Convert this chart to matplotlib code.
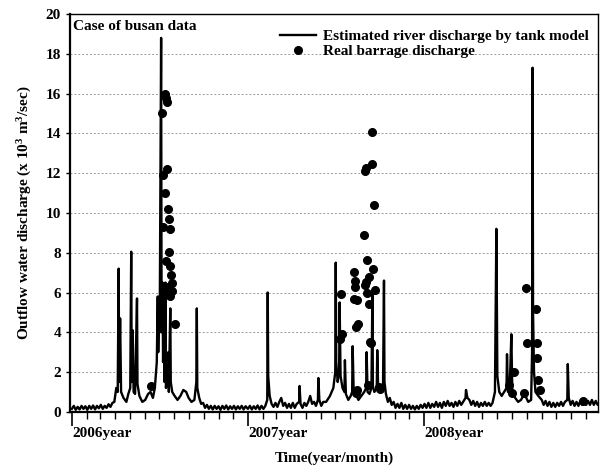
import matplotlib
matplotlib.use("Agg")
import matplotlib.pyplot as plt
import matplotlib.dates as mdates
import pandas as pd

plt.rcParams['font.family'] = ['Liberation Serif', 'DejaVu Serif']
plt.rcParams['font.weight'] = 'bold'
plt.rcParams['mathtext.fontset'] = 'custom'
plt.rcParams['mathtext.rm'] = 'Liberation Serif:bold'
plt.rcParams['mathtext.bf'] = 'Liberation Serif:bold'
plt.rcParams['mathtext.default'] = 'bf'

# tank model estimate (10^3 m3/sec)
tank_2006 = [
    ("2006-01-01", 0.15), ("2006-01-05", 0.3), ("2006-01-09", 0.1), ("2006-01-13", 0.25),
    ("2006-01-17", 0.12), ("2006-01-21", 0.3), ("2006-01-25", 0.15), ("2006-01-29", 0.28),
    ("2006-02-02", 0.1), ("2006-02-06", 0.3), ("2006-02-10", 0.15), ("2006-02-14", 0.32),
    ("2006-02-18", 0.12), ("2006-02-22", 0.3), ("2006-02-26", 0.18), ("2006-03-02", 0.35),
    ("2006-03-06", 0.15), ("2006-03-10", 0.3), ("2006-03-14", 0.2), ("2006-03-18", 0.38),
    ("2006-03-22", 0.25), ("2006-03-26", 0.45), ("2006-03-30", 0.5), ("2006-04-03", 1.2),
    ("2006-04-06", 1.0), ("2006-04-08", 7.2), ("2006-04-09", 1.5), ("2006-04-11", 4.7),
    ("2006-04-13", 1.0), ("2006-04-18", 0.7), ("2006-04-24", 0.5), ("2006-04-28", 0.9),
    ("2006-05-02", 1.2), ("2006-05-04", 8.05), ("2006-05-05", 1.5), ("2006-05-07", 4.1),
    ("2006-05-09", 1.0), ("2006-05-12", 0.9), ("2006-05-16", 5.7), ("2006-05-17", 1.4),
    ("2006-05-21", 0.8), ("2006-05-27", 0.5), ("2006-06-02", 0.6), ("2006-06-08", 0.9),
    ("2006-06-13", 1.0), ("2006-06-18", 0.7), ("2006-06-22", 1.2), ("2006-06-26", 2.5),
    ("2006-06-28", 5.8), ("2006-06-29", 3.0), ("2006-07-01", 5.5), ("2006-07-02", 4.0),
    ("2006-07-05", 18.8), ("2006-07-06", 4.0), ("2006-07-08", 6.5), ("2006-07-09", 2.5),
    ("2006-07-11", 4.5), ("2006-07-12", 1.5), ("2006-07-14", 6.5), ("2006-07-15", 1.2),
    ("2006-07-18", 2.0), ("2006-07-20", 3.0), ("2006-07-21", 1.0), ("2006-07-24", 5.2),
    ("2006-07-25", 1.5), ("2006-07-28", 1.0), ("2006-08-02", 0.8), ("2006-08-08", 0.6),
    ("2006-08-14", 0.8), ("2006-08-20", 1.1), ("2006-08-26", 1.0), ("2006-08-31", 0.7),
    ("2006-09-06", 0.5), ("2006-09-12", 0.6), ("2006-09-16", 1.5), ("2006-09-17", 5.2),
    ("2006-09-18", 1.2), ("2006-09-22", 0.7), ("2006-09-26", 0.4), ("2006-09-30", 0.45),
    ("2006-10-04", 0.2), ("2006-10-08", 0.35), ("2006-10-12", 0.15), ("2006-10-16", 0.3),
    ("2006-10-20", 0.12), ("2006-10-24", 0.3), ("2006-10-28", 0.15), ("2006-11-01", 0.28),
    ("2006-11-05", 0.1), ("2006-11-09", 0.3), ("2006-11-13", 0.15), ("2006-11-17", 0.32),
    ("2006-11-21", 0.12), ("2006-11-25", 0.28), ("2006-11-29", 0.15), ("2006-12-03", 0.3),
    ("2006-12-07", 0.12), ("2006-12-11", 0.28), ("2006-12-15", 0.15), ("2006-12-19", 0.3),
    ("2006-12-23", 0.12), ("2006-12-27", 0.28),
]
tank_2007 = [
    ("2007-01-01", 0.15), ("2007-01-05", 0.3), ("2007-01-09", 0.12), ("2007-01-13", 0.28),
    ("2007-01-17", 0.15), ("2007-01-21", 0.32), ("2007-01-25", 0.12), ("2007-01-29", 0.3),
    ("2007-02-02", 0.15), ("2007-02-06", 0.3), ("2007-02-10", 0.6), ("2007-02-11", 6.0),
    ("2007-02-12", 1.8), ("2007-02-15", 0.8), ("2007-02-19", 0.4), ("2007-02-23", 0.25),
    ("2007-02-27", 0.45), ("2007-03-03", 0.25), ("2007-03-07", 0.5), ("2007-03-11", 0.7),
    ("2007-03-15", 0.3), ("2007-03-19", 0.45), ("2007-03-23", 0.2), ("2007-03-27", 0.4),
    ("2007-03-31", 0.2), ("2007-04-04", 0.45), ("2007-04-08", 0.2), ("2007-04-12", 0.4),
    ("2007-04-17", 0.5), ("2007-04-18", 1.3), ("2007-04-20", 0.4), ("2007-04-24", 0.2),
    ("2007-04-28", 0.45), ("2007-05-02", 0.3), ("2007-05-06", 0.5), ("2007-05-10", 0.8),
    ("2007-05-14", 0.4), ("2007-05-18", 0.5), ("2007-05-22", 0.3), ("2007-05-26", 0.6),
    ("2007-05-27", 1.7), ("2007-05-29", 0.6), ("2007-06-02", 0.3), ("2007-06-06", 0.5),
    ("2007-06-12", 0.5), ("2007-06-20", 0.8), ("2007-06-27", 1.2), ("2007-07-01", 2.0),
    ("2007-07-02", 7.5), ("2007-07-03", 2.5), ("2007-07-06", 1.5), ("2007-07-09", 2.0),
    ("2007-07-10", 5.5), ("2007-07-12", 1.8), ("2007-07-16", 1.2), ("2007-07-20", 1.0),
    ("2007-07-21", 2.6), ("2007-07-23", 0.9), ("2007-07-28", 0.6), ("2007-08-02", 0.8),
    ("2007-08-05", 1.0), ("2007-08-06", 3.3), ("2007-08-08", 1.2), ("2007-08-12", 0.9),
    ("2007-08-18", 0.6), ("2007-08-24", 0.8), ("2007-08-30", 1.0), ("2007-09-03", 1.2),
    ("2007-09-04", 3.0), ("2007-09-06", 1.0), ("2007-09-10", 0.9), ("2007-09-14", 1.2),
    ("2007-09-16", 6.0), ("2007-09-17", 1.3), ("2007-09-20", 1.0), ("2007-09-25", 1.2),
    ("2007-09-26", 3.1), ("2007-09-28", 1.1), ("2007-10-03", 1.0), ("2007-10-08", 1.3),
    ("2007-10-10", 6.6), ("2007-10-11", 1.5), ("2007-10-14", 0.9), ("2007-10-18", 0.5),
    ("2007-10-22", 0.7), ("2007-10-26", 0.35), ("2007-10-30", 0.5), ("2007-11-03", 0.2),
    ("2007-11-07", 0.4), ("2007-11-11", 0.2), ("2007-11-15", 0.45), ("2007-11-19", 0.15),
    ("2007-11-23", 0.35), ("2007-11-27", 0.15), ("2007-12-01", 0.35), ("2007-12-05", 0.15),
    ("2007-12-09", 0.3), ("2007-12-13", 0.12), ("2007-12-17", 0.3), ("2007-12-21", 0.15),
    ("2007-12-25", 0.35), ("2007-12-29", 0.2),
]
tank_2008 = [
    ("2008-01-02", 0.4), ("2008-01-06", 0.2), ("2008-01-10", 0.45), ("2008-01-14", 0.2),
    ("2008-01-18", 0.4), ("2008-01-22", 0.25), ("2008-01-26", 0.5), ("2008-01-30", 0.25),
    ("2008-02-03", 0.45), ("2008-02-07", 0.2), ("2008-02-11", 0.5), ("2008-02-15", 0.3),
    ("2008-02-19", 0.55), ("2008-02-23", 0.3), ("2008-02-27", 0.45), ("2008-03-02", 0.25),
    ("2008-03-06", 0.5), ("2008-03-10", 0.3), ("2008-03-14", 0.55), ("2008-03-18", 0.35),
    ("2008-03-22", 0.5), ("2008-03-27", 0.7), ("2008-03-28", 1.1), ("2008-03-31", 0.7),
    ("2008-04-04", 0.6), ("2008-04-08", 0.35), ("2008-04-12", 0.55), ("2008-04-16", 0.3),
    ("2008-04-20", 0.5), ("2008-04-24", 0.25), ("2008-04-28", 0.45), ("2008-05-02", 0.3),
    ("2008-05-06", 0.5), ("2008-05-10", 0.3), ("2008-05-14", 0.45), ("2008-05-18", 0.3),
    ("2008-05-22", 0.45), ("2008-05-27", 1.0), ("2008-05-28", 3.7), ("2008-05-30", 9.2),
    ("2008-06-01", 1.8), ("2008-06-05", 1.0), ("2008-06-10", 0.8), ("2008-06-15", 1.0),
    ("2008-06-20", 1.2), ("2008-06-21", 2.9), ("2008-06-23", 1.0), ("2008-06-27", 1.5),
    ("2008-06-30", 3.9), ("2008-07-02", 1.0), ("2008-07-08", 0.7), ("2008-07-14", 0.5),
    ("2008-07-20", 0.6), ("2008-07-27", 0.9), ("2008-08-04", 0.5), ("2008-08-10", 0.6),
    ("2008-08-12", 3.0), ("2008-08-13", 17.3), ("2008-08-14", 5.0), ("2008-08-16", 2.0),
    ("2008-08-19", 1.0), ("2008-08-25", 0.8), ("2008-09-01", 0.6), ("2008-09-05", 0.35),
    ("2008-09-09", 0.55), ("2008-09-13", 0.3), ("2008-09-17", 0.5), ("2008-09-21", 0.25),
    ("2008-09-25", 0.45), ("2008-09-29", 0.25), ("2008-10-03", 0.45), ("2008-10-07", 0.3),
    ("2008-10-11", 0.5), ("2008-10-15", 0.3), ("2008-10-19", 0.5), ("2008-10-24", 0.6),
    ("2008-10-25", 2.4), ("2008-10-27", 0.7), ("2008-10-31", 0.35), ("2008-11-04", 0.55),
    ("2008-11-08", 0.3), ("2008-11-12", 0.5), ("2008-11-16", 0.3), ("2008-11-20", 0.55),
    ("2008-11-24", 0.35), ("2008-11-28", 0.6), ("2008-12-02", 0.35), ("2008-12-06", 0.55),
    ("2008-12-10", 0.35), ("2008-12-14", 0.6), ("2008-12-18", 0.35), ("2008-12-22", 0.55),
    ("2008-12-26", 0.35), ("2008-12-30", 0.5),
]

# observed barrage discharge (dots)
barrage = [
    ("2006-06-15", 1.3), ("2006-07-07", 15.0), ("2006-07-13", 16.0), ("2006-07-16", 15.8),
    ("2006-07-17", 15.6), ("2006-07-18", 12.2), ("2006-07-09", 11.9), ("2006-07-14", 11.0),
    ("2006-07-19", 10.2), ("2006-07-21", 9.7), ("2006-07-08", 9.3), ("2006-07-23", 9.2),
    ("2006-07-22", 8.05), ("2006-07-15", 7.6), ("2006-07-24", 7.35), ("2006-07-26", 6.9),
    ("2006-07-27", 6.5), ("2006-07-20", 6.3), ("2006-07-13", 6.1), ("2006-07-28", 6.1),
    ("2006-07-23", 5.8), ("2006-08-02", 4.4),
    ("2007-09-15", 14.05), ("2007-09-16", 12.45), ("2007-09-02", 12.25), ("2007-08-31", 12.1),
    ("2007-09-19", 10.4), ("2007-08-30", 8.9), ("2007-09-04", 7.65), ("2007-09-17", 7.2),
    ("2007-08-09", 7.05), ("2007-09-08", 6.8), ("2007-08-10", 6.6), ("2007-09-03", 6.55),
    ("2007-09-01", 6.4), ("2007-08-11", 6.3), ("2007-09-05", 6.0), ("2007-09-22", 6.15),
    ("2007-07-12", 5.9), ("2007-08-08", 5.65), ("2007-08-16", 5.6), ("2007-09-09", 5.4),
    ("2007-08-17", 4.4), ("2007-08-12", 4.25), ("2007-07-14", 3.9), ("2007-07-11", 3.65),
    ("2007-09-11", 3.5), ("2007-09-14", 3.45), ("2007-08-15", 1.1), ("2007-09-07", 1.35),
    ("2007-09-29", 1.27), ("2007-08-14", 0.95), ("2007-10-01", 1.15),
    ("2008-07-31", 6.25), ("2008-08-21", 5.15), ("2008-08-01", 3.45), ("2008-08-22", 3.45),
    ("2008-08-23", 2.7), ("2008-07-06", 2.0), ("2008-08-24", 1.6), ("2008-08-29", 1.1),
    ("2008-06-26", 1.35), ("2008-07-01", 0.95), ("2008-07-27", 0.95), ("2008-11-26", 0.55),
]

year_starts = ["2006-01-01", "2007-01-01", "2008-01-01"]
year_labels = ["2006year", "2007year", "2008year"]
y_ticks = list(range(0, 21, 2))

tank = pd.DataFrame(tank_2006 + tank_2007 + tank_2008, columns=["date", "q"])
tank["date"] = pd.to_datetime(tank["date"])
obs = pd.DataFrame(barrage, columns=["date", "q"])
obs["date"] = pd.to_datetime(obs["date"])

fig = plt.figure(figsize=(6.03, 4.68), dpi=100)
ax = fig.add_axes([0.116, 0.12, 0.876, 0.85])

ax.plot(tank["date"], tank["q"], color="black", lw=1.7,
        label="Estimated river discharge by tank model")
ax.plot(obs["date"], obs["q"], "o", color="black", ms=5.5, ls="none",
        label="Real barrage discharge")

ax.set_ylim(0, 20)
ax.set_xlim(pd.Timestamp("2005-12-28"), pd.Timestamp("2008-12-27"))
ax.set_yticks(y_ticks)
ax.yaxis.grid(True, linestyle=(0, (2, 2)), color="0.6", lw=0.7)
ax.set_axisbelow(True)

ax.set_xticks(pd.to_datetime(year_starts))
ax.set_xticklabels(year_labels, ha="left")
ax.xaxis.set_minor_locator(mdates.MonthLocator())
ax.tick_params(axis="x", which="major", length=10, width=1.2, pad=1, labelsize=11)
ax.tick_params(axis="x", which="minor", length=5, width=1.0)
ax.tick_params(axis="y", length=3, width=1.0, labelsize=11)
for sp in ax.spines.values():
    sp.set_linewidth(1.0)
ax.spines["left"].set_linewidth(1.6)
ax.spines["bottom"].set_linewidth(1.6)

ax.set_xlabel("Time(year/month)", fontsize=11, fontweight="bold", labelpad=8)
ax.set_ylabel(r"Outflow water discharge (x 10$^3$ m$^3$/sec)", fontsize=11,
              fontweight="bold", labelpad=8)

ax.text(0.006, 0.985, "Case of busan data", transform=ax.transAxes,
        ha="left", va="top", fontsize=11, fontweight="bold")

ax.legend(loc="upper right", bbox_to_anchor=(1.0, 0.985), frameon=False,
          handlelength=2.35, handletextpad=0.45, labelspacing=0.1,
          borderaxespad=0.2, prop={"size": 11, "weight": "bold"})

fig.savefig("out.png", dpi=100)
